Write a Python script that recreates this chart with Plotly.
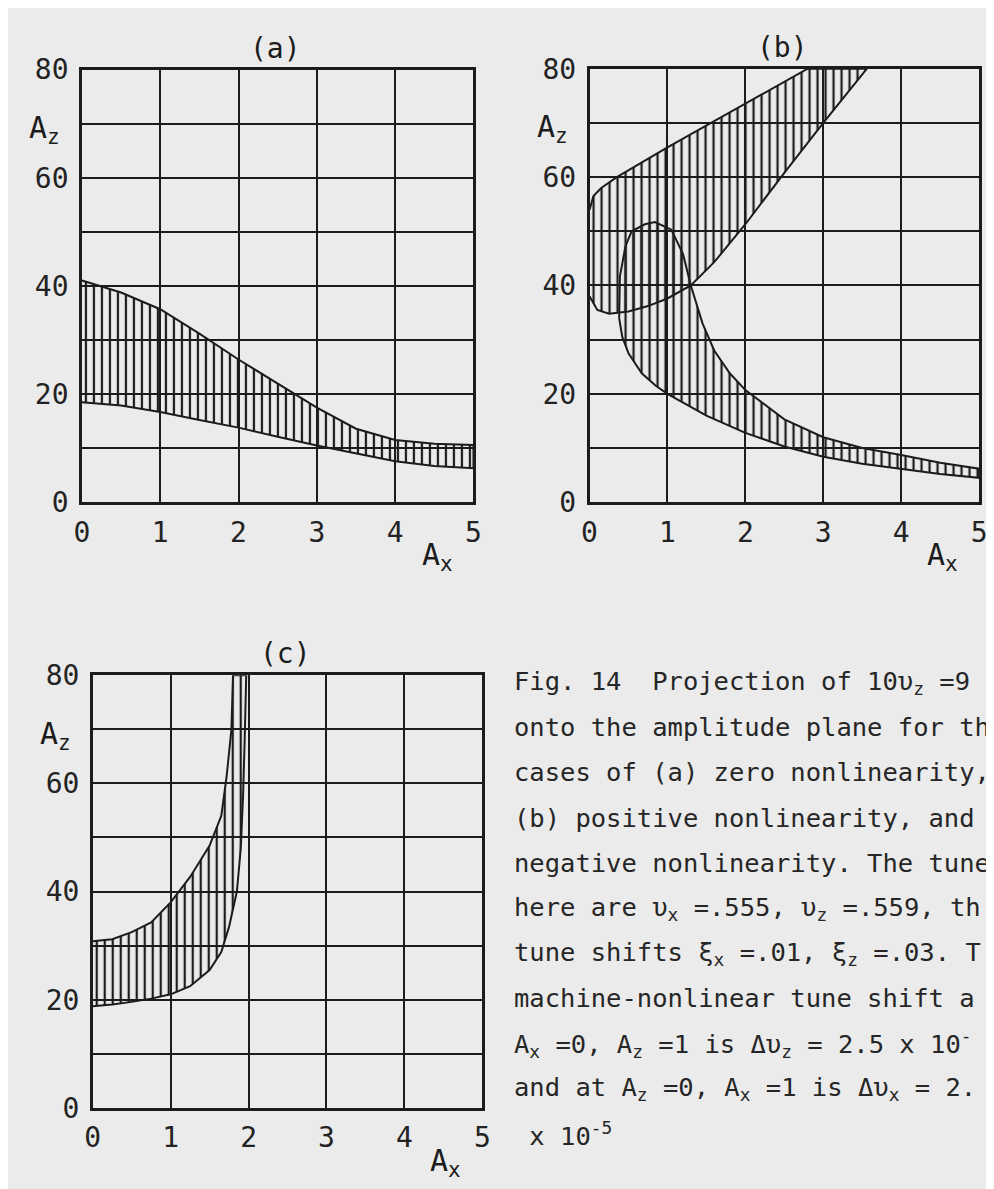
import plotly.graph_objects as go

# ---------------- data ----------------
x_ticks = [0, 1, 2, 3, 4, 5]
y_ticks = [0, 20, 40, 60, 80]
y_minor = [10, 30, 50, 70]

# (a) zero nonlinearity
a_x = [0, 0.5, 1, 1.5, 2, 2.5, 3, 3.5, 4, 4.5, 5]
a_upper = [41, 38.8, 35.7, 31.2, 26.4, 21.9, 17.5, 13.6, 11.5, 10.8, 10.6]
a_lower = [18.5, 17.9, 16.7, 15.2, 13.8, 12.1, 10.5, 9.0, 7.6, 6.7, 6.3]

# (b) positive nonlinearity : upper band
b_top_upper_x = [0, 0.05, 0.15, 0.35, 1, 2, 2.8, 3.56]
b_top_upper_y = [54, 56.5, 58, 60, 65.5, 73.5, 80, 80]
b_top_lower_x = [0, 0.1, 0.25, 0.5, 0.75, 1.0, 1.3, 1.6, 2, 2.5, 3, 3.56]
b_top_lower_y = [38, 35.5, 34.8, 35.2, 36.2, 37.6, 40, 44.3, 51.3, 60.8, 70, 80]
# (b) lower band (loop)
b_bot_upper_x = [0.38, 0.39, 0.46, 0.54, 0.71, 0.84, 1.05, 1.2, 1.3, 1.45, 1.6, 1.8,
                 2.0, 2.5, 3.0, 3.5, 4.0, 4.5, 5.0]
b_bot_upper_y = [34, 41.7, 47.2, 50, 51.3, 51.7, 50.3, 45.8, 40, 33, 28, 23.8,
                 20.7, 15.3, 12, 10, 8.7, 7.3, 6.2]
b_bot_lower_x = [0.38, 0.42, 0.5, 0.67, 0.85, 1.0, 1.5, 2.0, 2.5, 3.0, 3.5, 4.0, 4.5, 5.0]
b_bot_lower_y = [34, 30.5, 27.5, 23.8, 21.5, 20, 16, 12.8, 10.3, 8.4, 7.1, 6.2, 5.2, 4.5]

# (c) negative nonlinearity
c_upper_x = [0, 0.25, 0.5, 0.75, 1.0, 1.25, 1.5, 1.65, 1.72, 1.78, 1.8]
c_upper_y = [30.8, 31.2, 32.5, 34.3, 38, 42.7, 48.5, 54, 61.5, 70, 80]
c_lower_x = [0, 0.25, 0.5, 0.75, 1.0, 1.25, 1.5, 1.65, 1.75, 1.85, 1.9, 1.93, 1.95, 1.97]
c_lower_y = [18.8, 19.1, 19.6, 20.2, 21, 22.5, 25.5, 28.8, 33.5, 40, 48, 58, 68, 80]

caption_lines = [
    "Fig. 14  Projection of 10υ<sub>z</sub> =9",
    "onto the amplitude plane for th",
    "cases of (a) zero nonlinearity,",
    "(b) positive nonlinearity, and",
    "negative nonlinearity. The tune",
    "here are υ<sub>x</sub> =.555, υ<sub>z</sub> =.559, th",
    "tune shifts ξ<sub>x</sub> =.01, ξ<sub>z</sub> =.03. T",
    "machine-nonlinear tune shift a",
    "A<sub>x</sub> =0, A<sub>z</sub> =1 is Δυ<sub>z</sub> = 2.5 x 10<sup>-</sup>",
    "and at A<sub>z</sub> =0, A<sub>x</sub> =1 is Δυ<sub>x</sub> = 2.",
    " x 10<sup>-5</sup>",
]

# ---------------- layout helpers ----------------
OFF = 8                      # page body margin of the html page
W, H = 994 - OFF, 1189 - OFF  # figure size so it ends at the window edge
INK = "#1c1c1c"
BG = "#ebebeb"
FONT = "DejaVu Sans Mono"


def fx(px):  # window pixel -> paper x
    return (px - OFF) / W


def fy(py):  # window pixel -> paper y
    return 1 - (py - OFF) / H


panels = [
    # axis suffix, x-pixels (left, right), y-pixels (top, bottom), title
    ("", (75, 473), (55, 500), "(a)"),
    ("2", (591, 987), (54, 500), "(b)"),
    ("3", (86, 482), (678, 1123), "(c)"),
]

fig = go.Figure()

pat = dict(shape="|", size=8, solidity=0.28, fgcolor=INK,
           bgcolor="rgba(0,0,0,0)", fillmode="replace")


def region(xu, yu, xl, yl, ax):
    xs = list(xu) + list(reversed(xl))
    ys = list(yu) + list(reversed(yl))
    fig.add_trace(go.Scatter(
        x=xs, y=ys, mode="lines", fill="toself",
        fillcolor="rgba(0,0,0,0)", fillpattern=pat,
        line=dict(color=INK, width=2),
        xaxis="x" + ax, yaxis="y" + ax, showlegend=False, hoverinfo="skip"))


region(a_x, a_upper, a_x, a_lower, "")
region(b_top_upper_x, b_top_upper_y, b_top_lower_x, b_top_lower_y, "2")
region(b_bot_upper_x, b_bot_upper_y, b_bot_lower_x, b_bot_lower_y, "2")
region(c_upper_x, c_upper_y, c_lower_x, c_lower_y, "3")

layout = dict(
    width=W, height=H, margin=dict(l=0, r=0, t=0, b=0),
    paper_bgcolor=BG, plot_bgcolor=BG, showlegend=False,
    font=dict(family=FONT, color=INK),
)
annotations = []
for suffix, (xl, xr), (yt, yb), title in panels:
    xa = dict(
        domain=[fx(xl), fx(xr)], range=[0, 5], tickvals=x_ticks,
        showgrid=True, gridcolor=INK, gridwidth=2, zeroline=False,
        showline=True, mirror=True, linecolor=INK, linewidth=2.5,
        ticks="outside", ticklen=3, tickcolor="rgba(0,0,0,0)",
        tickfont=dict(family=FONT, size=28, color="#232323"),
        anchor="y" + suffix, fixedrange=True,
    )
    ya = dict(
        domain=[fy(yb), fy(yt)], range=[0, 80], tickvals=y_ticks,
        showgrid=True, gridcolor=INK, gridwidth=2, zeroline=False,
        minor=dict(tickvals=y_minor, showgrid=True, gridcolor=INK, gridwidth=2,
                   ticks=""),
        showline=True, mirror=True, linecolor=INK, linewidth=2.5,
        ticks="outside", ticklen=5, tickcolor="rgba(0,0,0,0)",
        tickfont=dict(family=FONT, size=28, color="#232323"),
        anchor="x" + suffix, fixedrange=True,
    )
    layout["xaxis" + suffix] = xa
    layout["yaxis" + suffix] = ya
    cx = (xl + xr) / 2
    # panel title
    annotations.append(dict(
        text=title, x=fx(cx - 2), y=fy(yt - 22), xref="paper", yref="paper",
        xanchor="center", yanchor="middle", showarrow=False,
        font=dict(family=FONT, size=28, color=INK)))
    # A_z label
    annotations.append(dict(
        text="A<sub>z</sub>", x=fx(xl - 38), y=fy(yt + 62),
        xref="paper", yref="paper", xanchor="center", yanchor="middle",
        showarrow=False, font=dict(family=FONT, size=30, color=INK)))
    # A_x label
    annotations.append(dict(
        text="A<sub>x</sub>", x=fx(xr - 37), y=fy(yb + 56),
        xref="paper", yref="paper", xanchor="center", yanchor="middle",
        showarrow=False, font=dict(family=FONT, size=30, color=INK)))

for i, line in enumerate(caption_lines):
    annotations.append(dict(
        text=line, x=fx(512), y=fy(685 + 46.5 * i),
        xref="paper", yref="paper", xanchor="left", yanchor="middle",
        showarrow=False, align="left",
        font=dict(family=FONT, size=25.5, color="#262626")))

layout["annotations"] = annotations
fig.update_layout(**layout)
fig.write_html("out.html")
